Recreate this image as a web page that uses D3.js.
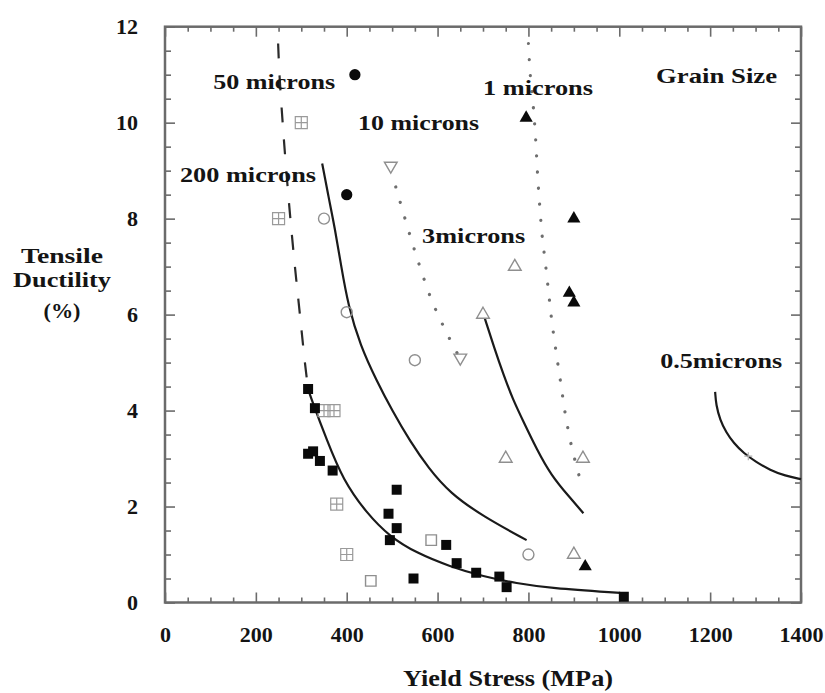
<!DOCTYPE html>
<html><head><meta charset="utf-8">
<script src="https://cdn.jsdelivr.net/npm/d3@7"></script>
<style>body{margin:0;background:#fff}svg{display:block}</style>
</head><body><svg id="c" width="825" height="693"></svg>
<script>
// ---- data ----
const xTickValues = [0, 200, 400, 600, 800, 1000, 1200, 1400];
const yTickValues = [0, 2, 4, 6, 8, 10, 12];

const filledCircles = [[418, 11.0], [400, 8.5]];
const openCircles = [[350, 8.0], [400, 6.05], [550, 5.05], [800, 1.0]];
const gridSquares = [[300, 10.0], [250, 8.0], [350, 4.0], [372, 4.0], [378, 2.05], [400, 1.0]];
const openDownTriangles = [[497, 9.1], [650, 5.1]];
const openUpTriangles = [[770, 7.0], [700, 6.0], [750, 3.0], [920, 3.0], [900, 1.0]];
const filledTriangles = [[795, 10.1], [900, 8.0], [890, 6.45], [900, 6.25], [925, 0.75]];
const filledSquares = [[315, 4.45], [330, 4.05], [315, 3.1], [326, 3.15], [341, 2.95], [369, 2.75],
  [510, 2.35], [492, 1.85], [510, 1.55], [495, 1.3], [547, 0.5], [619, 1.2], [642, 0.82],
  [685, 0.62], [736, 0.54], [752, 0.32], [1010, 0.12]];
const openSquares = [[586, 1.3], [453, 0.45]];
const plusMarks = [[1284, 3.05]];

const curve50Dashed = [[249, 11.65], [252, 11.0], [259, 10.0], [267, 9.0], [276, 8.0], [286, 7.0], [297, 6.0], [308, 5.0], [315, 4.45]];
const curve50Solid = [[315, 4.45], [323, 4.22], [356, 3.39], [392, 2.55], [444, 1.86], [495, 1.37], [554, 1.03],
  [627, 0.75], [701, 0.54], [774, 0.40], [847, 0.30], [1002, 0.20]];
const curve200 = [[346, 9.15], [360, 8.45], [374, 7.8], [388, 7.0], [403, 6.2], [430, 5.35], [466, 4.62], [500, 4.0], [540, 3.35],
  [580, 2.8], [627, 2.28], [701, 1.79], [796, 1.30]];
const curve10Dotted = [[508, 8.66], [539, 7.66], [561, 7.0], [587, 6.3], [619, 5.64], [649, 5.09]];
const curve3 = [[704, 5.92], [725, 5.3], [745, 4.75], [765, 4.25], [790, 3.75], [818, 3.2], [850, 2.65], [890, 2.2], [921, 1.86]];
const curve1Dotted = [[800, 11.65], [804, 11.0], [811, 10.3], [816, 9.64], [820, 8.94], [825, 8.25],
  [830, 7.66], [837, 7.1], [844, 6.5], [851, 5.9], [860, 5.28], [871, 4.58], [881, 3.94], [895, 3.25], [913, 2.59]];
const curve05 = [[1211, 4.39], [1213, 4.12], [1222, 3.80], [1235, 3.55], [1252, 3.32], [1274, 3.11],
  [1301, 2.93], [1332, 2.76], [1365, 2.64], [1400, 2.57]];

const labelTexts = ["50 microns", "10 microns", "200 microns", "1 microns", "Grain Size", "3microns", "0.5microns"];
const labelAnchors = [[106, 10.7], [425, 9.84], [33, 8.76], [700, 10.57], [1081, 10.82], [566, 7.49], [1090, 4.89]];
const labelWidths = [122, 121, 136, 110, 121, 103, 122];

const xTitle = "Yield Stress (MPa)";
const yTitleLines = ["Tensile", "Ductility", "(%)"];

// ---- chart ----
const svg = d3.select("#c");
const x = d3.scaleLinear().domain([0, 1400]).range([165, 801]);
const y = d3.scaleLinear().domain([0, 12]).range([602.5, 26.7]);
const serif = "'Liberation Serif','Times New Roman',serif";
const frameCol = "#6b6b6b";

const xMinor = d3.range(0, 1401, 50).filter(v => v % 200 !== 0);
const yMinor = d3.range(0, 12.01, 0.5).filter(v => v % 2 !== 0);

function styleAxis(g) {
  g.select(".domain").remove();
  g.selectAll("line").attr("stroke", frameCol).attr("stroke-width", 1.6);
}
// bottom
svg.append("g").attr("transform", `translate(0,${y(0)})`)
  .call(d3.axisBottom(x).tickValues(xMinor).tickSize(-5).tickFormat("")).call(styleAxis);
const bx = svg.append("g").attr("transform", `translate(0,${y(0)})`)
  .call(d3.axisBottom(x).tickValues(xTickValues).tickSizeInner(-10).tickSizeOuter(0).tickPadding(24).tickFormat(d3.format("d")))
  .call(styleAxis);
bx.selectAll("text").attr("font-family", serif).attr("font-size", 22).attr("font-weight", "bold").attr("fill", "#141414");
// top
svg.append("g").attr("transform", `translate(0,${y(12)})`)
  .call(d3.axisTop(x).tickValues(xMinor).tickSize(-5).tickFormat("")).call(styleAxis);
svg.append("g").attr("transform", `translate(0,${y(12)})`)
  .call(d3.axisTop(x).tickValues(xTickValues).tickSize(-10).tickFormat("")).call(styleAxis);
// left
svg.append("g").attr("transform", `translate(${x(0)},0)`)
  .call(d3.axisLeft(y).tickValues(yMinor).tickSize(-6).tickFormat("")).call(styleAxis);
const ly = svg.append("g").attr("transform", `translate(${x(0)},0)`)
  .call(d3.axisLeft(y).tickValues(yTickValues).tickSizeInner(-10).tickSizeOuter(0).tickPadding(27).tickFormat(d3.format("d")))
  .call(styleAxis);
ly.selectAll("text").attr("font-family", serif).attr("font-size", 22).attr("font-weight", "bold").attr("fill", "#141414");
// right
svg.append("g").attr("transform", `translate(${x(1400)},0)`)
  .call(d3.axisRight(y).tickValues(yMinor).tickSize(-6).tickFormat("")).call(styleAxis);
svg.append("g").attr("transform", `translate(${x(1400)},0)`)
  .call(d3.axisRight(y).tickValues(yTickValues).tickSize(-10).tickFormat("")).call(styleAxis);

// frame
svg.append("rect").attr("x", x(0)).attr("y", y(12)).attr("width", x(1400) - x(0)).attr("height", y(0) - y(12))
  .attr("fill", "none").attr("stroke", frameCol).attr("stroke-width", 2.5);

// curves
const lineCR = d3.line().x(d => x(d[0])).y(d => y(d[1])).curve(d3.curveCatmullRom.alpha(0.5));
const lineB = d3.line().x(d => x(d[0])).y(d => y(d[1])).curve(d3.curveBasis);
function drawCurve(data, gen, opts) {
  svg.append("path").datum(data).attr("d", gen).attr("fill", "none")
    .attr("stroke", opts.color || "#1a1a1a").attr("stroke-width", opts.width || 2.2)
    .attr("stroke-dasharray", opts.dash || null).attr("stroke-linecap", opts.cap || "butt");
}
drawCurve(curve50Dashed, lineCR, { dash: "15,17", width: 2.2, color: "#2a2a2a" });
drawCurve(curve50Solid, lineB, {});
drawCurve(curve200, lineB, {});
drawCurve(curve3, lineB, {});
drawCurve(curve05, lineB, {});
drawCurve(curve10Dotted, lineCR, { dash: "0.1,16", width: 3.2, cap: "round", color: "#6e6e6e" });
drawCurve(curve1Dotted, lineCR, { dash: "0.1,16", width: 3.2, cap: "round", color: "#6e6e6e" });

// markers
const gray = "#8f8f8f";
const sym = (type, size) => d3.symbol().type(type).size(size)();
function markers(data, pathStr, fill, stroke, sw, rot) {
  svg.append("g").selectAll("path").data(data).join("path")
    .attr("transform", d => `translate(${x(d[0])},${y(d[1])})` + (rot ? ` rotate(${rot})` : ""))
    .attr("d", pathStr).attr("fill", fill).attr("stroke", stroke).attr("stroke-width", sw);
}
markers(openCircles, sym(d3.symbolCircle, 95), "none", gray, 1.4);
markers(openSquares, sym(d3.symbolSquare, 110), "none", gray, 1.4);
markers(openUpTriangles, sym(d3.symbolTriangle, 70), "none", gray, 1.4);
markers(openDownTriangles, sym(d3.symbolTriangle, 70), "none", gray, 1.4, 180);
markers(gridSquares, "M-6,-6H6V6H-6Z M0,-6V6 M-6,0H6", "none", "#9a9a9a", 1.2);
markers(plusMarks, "M-4,0H4 M0,-4V4", "none", "#b0b0b0", 1.2);
markers(filledSquares, sym(d3.symbolSquare, 100), "#0a0a0a", "none", 0);
markers(filledCircles, sym(d3.symbolCircle, 100), "#0a0a0a", "none", 0);
markers(filledTriangles, sym(d3.symbolTriangle, 75), "#0a0a0a", "none", 0);

// annotations
svg.append("g").selectAll("text").data(labelTexts).join("text")
  .attr("x", (d, i) => x(labelAnchors[i][0])).attr("y", (d, i) => y(labelAnchors[i][1]))
  .attr("textLength", (d, i) => labelWidths[i]).attr("lengthAdjust", "spacingAndGlyphs")
  .attr("font-family", serif).attr("font-size", 22).attr("font-weight", "bold").attr("fill", "#141414")
  .text(d => d);

// axis titles
svg.append("text").attr("x", 508).attr("y", 686).attr("text-anchor", "middle")
  .attr("font-family", serif).attr("font-size", 23).attr("font-weight", "bold").attr("fill", "#141414")
  .attr("textLength", 210).attr("lengthAdjust", "spacingAndGlyphs").text(xTitle);
const yTitleY = [263, 287, 318];
const yTitleW = [82, 98, 37];
svg.append("g").selectAll("text").data(yTitleLines).join("text")
  .attr("x", 62).attr("y", (d, i) => yTitleY[i]).attr("text-anchor", "middle")
  .attr("textLength", (d, i) => yTitleW[i]).attr("lengthAdjust", "spacingAndGlyphs")
  .attr("font-family", serif).attr("font-size", 21).attr("font-weight", "bold").attr("fill", "#141414")
  .text(d => d);
</script></body></html>
